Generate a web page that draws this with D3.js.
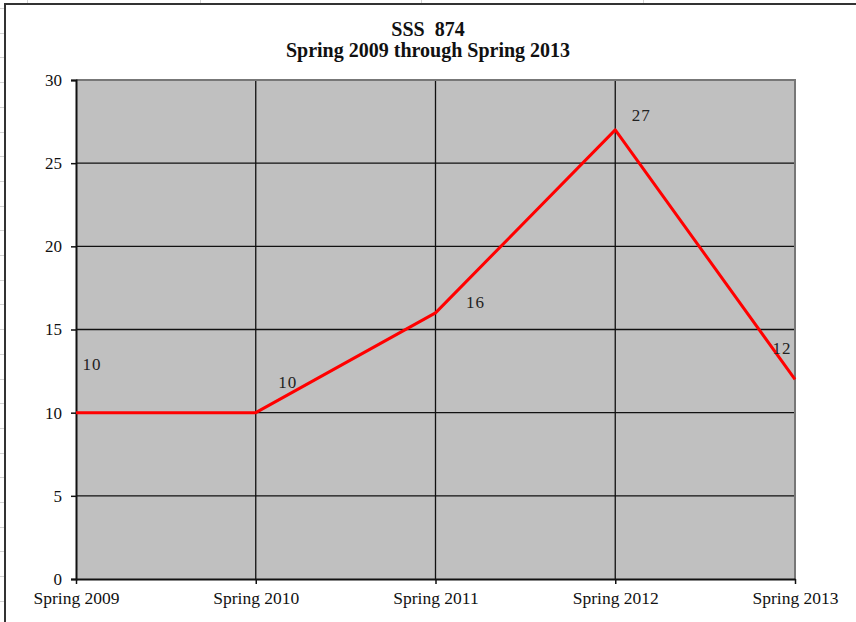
<!DOCTYPE html>
<html>
<head>
<meta charset="utf-8">
<script src="https://cdn.jsdelivr.net/npm/d3@7"></script>
<style>
  html, body { margin: 0; padding: 0; background: #fff; }
  svg { display: block; }
  text { font-family: "Liberation Serif", "Times New Roman", serif; }
</style>
</head>
<body>
<div id="chart"></div>
<script>
const categories = ["Spring 2009", "Spring 2010", "Spring 2011", "Spring 2012", "Spring 2013"];
const values = [10, 10, 16, 27, 12];
const yTicks = [0, 5, 10, 15, 20, 25, 30];
const titleLines = ["SSS  874", "Spring 2009 through Spring 2013"];

const width = 856;
const height = 622;
const margin = { top: 80, right: 61, bottom: 43, left: 76 };

// where excel put each data label, relative to its point
const labelOffsets = [
  [16, -49],
  [32, -31],
  [40, -11],
  [26, -15],
  [-13, -31],
];

const svg = d3
  .select("#chart")
  .append("svg")
  .attr("width", width)
  .attr("height", height);

// spreadsheet cells peeking out behind the chart object
const sheet = svg.append("g").attr("stroke", "#d4d4d4").attr("stroke-width", 1);
d3.range(8, height, 24.7).forEach((y) =>
  sheet.append("line").attr("x1", 0).attr("x2", 5).attr("y1", Math.round(y) + 0.5).attr("y2", Math.round(y) + 0.5)
);
[27, 200, 421, 643].forEach((x) =>
  sheet.append("line").attr("x1", x + 0.5).attr("x2", x + 0.5).attr("y1", 0).attr("y2", 4)
);

// chart object frame
svg
  .append("rect")
  .attr("x", 5)
  .attr("y", 4)
  .attr("width", width + 10)
  .attr("height", height + 10)
  .attr("fill", "#fff")
  .attr("stroke", "#333")
  .attr("stroke-width", 2);

const x = d3
  .scalePoint()
  .domain(categories)
  .range([margin.left, width - margin.right]);

const y = d3
  .scaleLinear()
  .domain([0, 30])
  .range([height - margin.bottom, margin.top]);

const x0 = x.range()[0];
const x1 = x.range()[1];
const y0 = y.range()[0];
const y1 = y.range()[1];

// plot area
svg
  .append("rect")
  .attr("x", x0)
  .attr("y", y1)
  .attr("width", x1 - x0)
  .attr("height", y0 - y1)
  .attr("fill", "#c0c0c0");

// gridlines
svg
  .append("g")
  .attr("stroke", "#111")
  .attr("stroke-width", 1.3)
  .call((g) =>
    g
      .selectAll("line.h")
      .data(yTicks.filter((d) => d > 0 && d < 30))
      .join("line")
      .attr("x1", x0)
      .attr("x2", x1)
      .attr("y1", (d) => y(d))
      .attr("y2", (d) => y(d))
  )
  .call((g) =>
    g
      .selectAll("line.v")
      .data(categories.slice(1, -1))
      .join("line")
      .attr("x1", (d) => x(d))
      .attr("x2", (d) => x(d))
      .attr("y1", y1)
      .attr("y2", y0)
  );

// plot area top / right border in grey
svg
  .append("path")
  .attr("d", `M${x0},${y1}H${x1}V${y0}`)
  .attr("fill", "none")
  .attr("stroke", "#777")
  .attr("stroke-width", 2);

// y axis
const yAxis = svg
  .append("g")
  .attr("transform", `translate(${x0},0)`)
  .call(d3.axisLeft(y).tickValues(yTicks).tickSize(5).tickPadding(9));
yAxis.select(".domain").attr("stroke", "#111").attr("stroke-width", 2);
yAxis.selectAll(".tick line").attr("stroke", "#111").attr("stroke-width", 1.5);
yAxis
  .selectAll(".tick text")
  .attr("font-size", 17)
  .attr("fill", "#111");

// x axis
const xAxis = svg
  .append("g")
  .attr("transform", `translate(0,${y0})`)
  .call(d3.axisBottom(x).tickSize(5).tickSizeOuter(0).tickPadding(8));
xAxis.select(".domain").attr("stroke", "#111").attr("stroke-width", 2);
xAxis.selectAll(".tick line").attr("stroke", "#111").attr("stroke-width", 1.5);
xAxis
  .selectAll(".tick text")
  .attr("font-size", 17.5)
  .attr("fill", "#111");

// series line
const line = d3
  .line()
  .x((d, i) => x(categories[i]))
  .y((d) => y(d));

svg
  .append("path")
  .datum(values)
  .attr("d", line)
  .attr("fill", "none")
  .attr("stroke", "#ff0000")
  .attr("stroke-width", 3)
  .attr("stroke-linejoin", "round");

// data labels
svg
  .append("g")
  .selectAll("text")
  .data(values)
  .join("text")
  .attr("x", (d, i) => x(categories[i]) + labelOffsets[i][0])
  .attr("y", (d, i) => y(d) + labelOffsets[i][1])
  .attr("dy", "0.35em")
  .attr("text-anchor", "middle")
  .attr("font-size", 17)
  .attr("letter-spacing", 1)
  .attr("fill", "#222")
  .text((d) => d);

// title
svg
  .append("g")
  .selectAll("text")
  .data(titleLines)
  .join("text")
  .attr("x", 428)
  .attr("y", (d, i) => 36 + i * 21)
  .attr("text-anchor", "middle")
  .attr("font-size", 20)
  .attr("font-weight", "bold")
  .attr("fill", "#111")
  .style("white-space", "pre")
  .text((d) => d);
</script>
</body>
</html>
